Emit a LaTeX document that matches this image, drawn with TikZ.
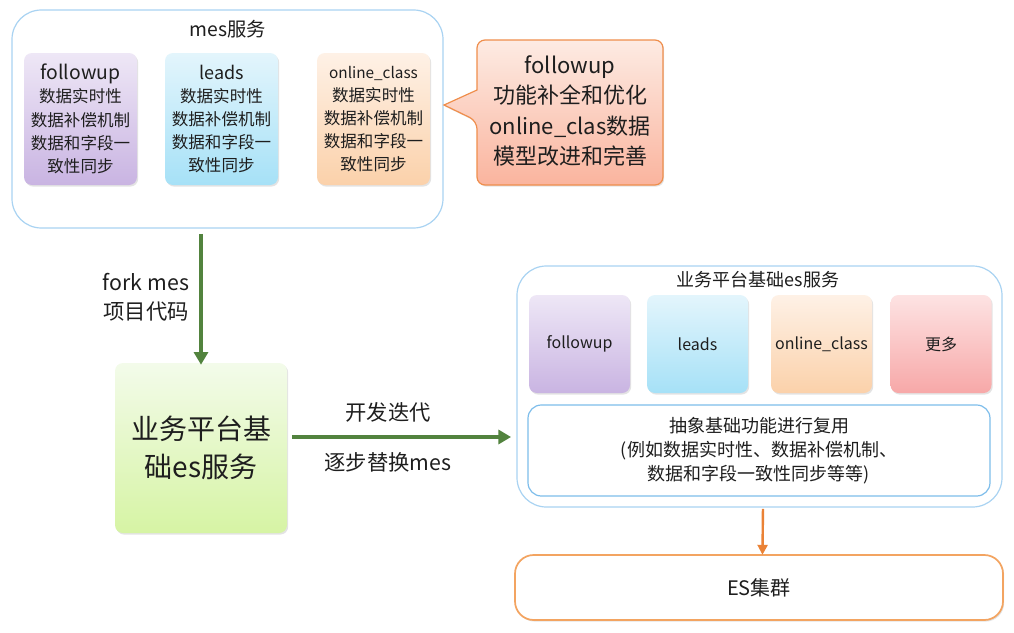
\documentclass[tikz,border=0pt]{standalone}
\usepackage{fontspec}
\setmainfont{Noto Sans CJK SC}
\usetikzlibrary{arrows.meta,shadows}
\definecolor{outerblue}{HTML}{A9D3F2}
\definecolor{innerblue}{HTML}{7DBDEB}
\definecolor{garrowc}{HTML}{52833E}
\definecolor{oarrowc}{HTML}{EA8236}
\definecolor{esorange}{HTML}{F3A461}
\definecolor{callborder}{HTML}{EF8E4C}
\definecolor{txt}{HTML}{1E1E1E}
\definecolor{pTop}{HTML}{EEE7F6}\definecolor{pBot}{HTML}{C9B4E2}
\definecolor{bTop}{HTML}{E3F5FC}\definecolor{bBot}{HTML}{A6E1F7}
\definecolor{oTop}{HTML}{FEF1E6}\definecolor{oBot}{HTML}{FBD1AA}
\definecolor{rTop}{HTML}{FDE3E3}\definecolor{rBot}{HTML}{F7A8A8}
\definecolor{gTop}{HTML}{F3FBEA}\definecolor{gBot}{HTML}{D6F4A4}
\definecolor{cTop}{HTML}{FDEBE3}\definecolor{cBot}{HTML}{FAB49E}
\tikzset{
  every node/.style={text=txt},
  shd/.style={drop shadow={opacity=0.22,shadow xshift=0.9pt,shadow yshift=-1.2pt}},
  outerbox/.style={draw=outerblue,line width=0.9pt,fill=white,rounded corners=22pt},
  card/.style={shd,rounded corners=6pt,align=center,inner sep=0pt},
  garrow/.style={draw=garrowc,line width=2.6pt,-{Triangle[width=10.5pt,length=9.5pt]}},
  oarrow/.style={draw=oarrowc,line width=1.8pt,-{Triangle[width=7.5pt,length=7.5pt]}},
  pcard/.style={card,top color=pTop,bottom color=pBot},
  bcard/.style={card,top color=bTop,bottom color=bBot},
  ocard/.style={card,top color=oTop,bottom color=oBot},
  rcard/.style={card,top color=rTop,bottom color=rBot},
  mescard/.style={minimum width=84.75pt,minimum height=99pt,font=\fontsize{12.4}{17.4}\selectfont},
  escard/.style={minimum width=75.75pt,minimum height=73.5pt,font=\fontsize{12}{14}\selectfont},
}
\begin{document}
\begin{tikzpicture}[x=0.75pt,y=-0.75pt]
\useasboundingbox (0,0) rectangle (1014,632);
% mes service
\node[outerbox,minimum width=323.25pt,minimum height=163.5pt] (mes) at (227.5,119) {};
\node[font=\fontsize{14.5}{16}\selectfont] (mestitle) at (228,29) {mes服务};
\node[pcard,mescard] (f1) at (80.5,119) {{\fontsize{14.5}{17.4}\selectfont followup}\\数据实时性\\数据补偿机制\\数据和字段一\\致性同步};
\node[bcard,mescard] (l1) at (221.5,119) {{\fontsize{13.5}{17.4}\selectfont leads}\\数据实时性\\数据补偿机制\\数据和字段一\\致性同步};
\node[ocard,mescard] (o1) at (373.5,119) {{\fontsize{11.5}{17.4}\selectfont online\_class}\\数据实时性\\数据补偿机制\\数据和字段一\\致性同步};
% callout
\path[shd,draw=callborder,line width=0.9pt,top color=cTop,bottom color=cBot]
  (570,40) [rounded corners=6pt] -- (663,40) -- (663,185) -- (477,185) -- (477,121) [sharp corners] -- (444,105) -- (477,90) [rounded corners=6pt] -- (477,40) -- cycle;
\node[align=center,font=\fontsize{16.5}{22.8}\selectfont] (callout) at (570,111) {followup\\功能补全和优化\\online\_clas数据\\模型改进和完善};
% green box
\node[card,top color=gTop,bottom color=gBot,minimum width=129pt,minimum height=127.5pt,font=\fontsize{21}{28.5}\selectfont] (g) at (201,448) {业务平台基\\础es服务};
\draw[garrow] ([yshift=-4pt]mes.south -| g.north) -- ([yshift=-1.5pt]g.north);
\node[align=center,font=\fontsize{16}{21.5}\selectfont] (forklbl) at (146,297) {fork mes\\项目代码};
% right service
\node[outerbox,minimum width=363.75pt,minimum height=180.75pt] (rbox) at (759.5,386.5) {};
\node[font=\fontsize{13.5}{15}\selectfont] (rtitle) at (758,280) {业务平台基础es服务};
\node[pcard,escard] (f2) at (579.5,344) {followup};
\node[bcard,escard] (l2) at (697.5,344) {leads};
\node[ocard,escard] (o2) at (821.5,344) {online\_class};
\node[rcard,escard] (m2) at (941,344) {更多};
\node[draw=innerblue,line width=0.9pt,fill=white,rounded corners=10pt,minimum width=346.5pt,minimum height=68.25pt,align=center,font=\fontsize{13.5}{18}\selectfont] (base) at (759,450.5) {抽象基础功能进行复用\\(例如数据实时性、数据补偿机制、\\数据和字段一致性同步等等)};
\draw[garrow] ([xshift=3.5pt,yshift=8.25pt]g.east) -- ([xshift=-4pt,yshift=8.25pt]g.east -| rbox.west);
\node[font=\fontsize{16}{18}\selectfont] (dev) at (388,412) {开发迭代};
\node[font=\fontsize{16}{18}\selectfont] (rep) at (388,462) {逐步替换mes};
% ES cluster
\node[shd,draw=esorange,line width=1.3pt,fill=white,rounded corners=14pt,minimum width=366pt,minimum height=48.75pt,font=\fontsize{15}{17}\selectfont] (es) at (759,587.5) {ES集群};
\draw[oarrow] ([xshift=2.6pt,yshift=-1pt]rbox.south) -- ([xshift=2.6pt,yshift=-0.5pt]es.north);
\end{tikzpicture}
\end{document}
